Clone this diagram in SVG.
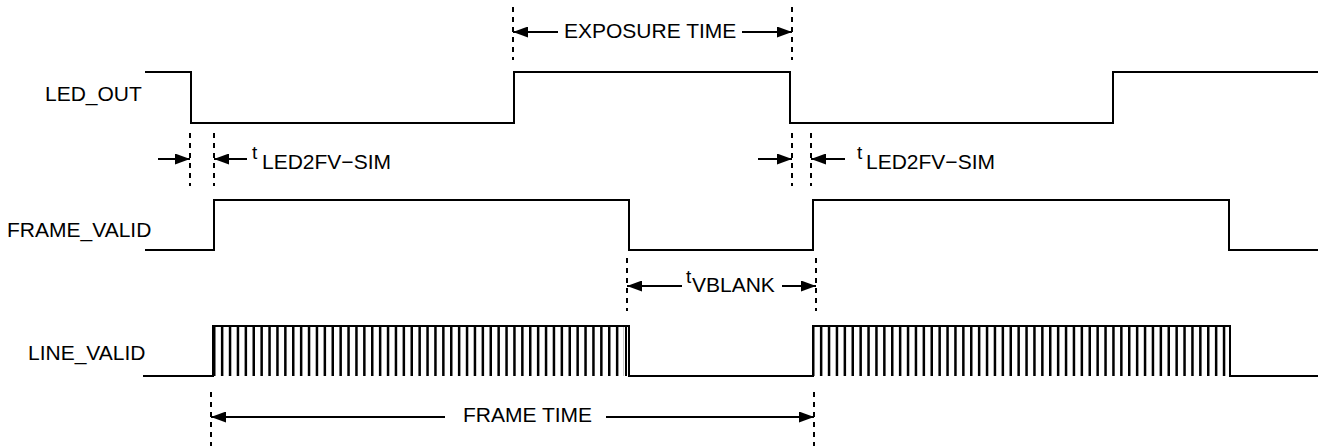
<svg xmlns="http://www.w3.org/2000/svg" width="1318" height="446" viewBox="0 0 1318 446">
<style>
.sig{fill:none;stroke:#000;stroke-width:2;stroke-linejoin:miter}
.bars{fill:none;stroke:#000;stroke-width:50}
.dash{fill:none;stroke:#000;stroke-width:2;stroke-dasharray:5 5}
.arr{fill:none;stroke:#000;stroke-width:2;marker-end:url(#ah)}
text{font-family:"Liberation Sans",Arial,sans-serif;font-size:21px;fill:#000}
.t{font-size:19px}
</style>
<defs>
<marker id="ah" markerUnits="userSpaceOnUse" markerWidth="15" markerHeight="11" refX="15" refY="5.5" orient="auto">
<path d="M0,0 L15,5.5 L0,11 z" fill="#000"/>
</marker>
</defs>
<rect width="1318" height="446" fill="#fff"/>
<g id="led_out">
<text x="45" y="101">LED_OUT</text>
<path class="sig" d="M145,72 H191 V123 H514 V72 H790 V123 H1113 V72 H1318"/>
</g>
<g id="frame_valid">
<text x="7" y="237">FRAME_VALID</text>
<path class="sig" d="M145,250 H214 V200 H629 V250 H813 V200 H1229 V250 H1318"/>
</g>
<g id="line_valid">
<text x="28" y="360">LINE_VALID</text>
<path class="sig" d="M143,376 H213 V326 H629 V376 H813 V326 H1231 M1230,326 V376 H1318"/>
<line class="bars" x1="213" y1="351" x2="624" y2="351" stroke-dasharray="2.5 5.4"/>
<line class="bars" x1="812" y1="351" x2="1228" y2="351" stroke-dasharray="2.5 5.4"/>
<line class="sig" x1="626" y1="326" x2="626" y2="376"/>
</g>
<g id="connectors">
<line class="dash" x1="190" y1="133" x2="190" y2="186"/>
<line class="dash" x1="214" y1="133" x2="214" y2="186"/>
<line class="dash" x1="792" y1="133" x2="792" y2="186"/>
<line class="dash" x1="811" y1="133" x2="811" y2="186"/>
<line class="dash" x1="513" y1="7" x2="513" y2="60"/>
<line class="dash" x1="792" y1="7" x2="792" y2="60"/>
<line class="dash" x1="627" y1="258" x2="627" y2="311"/>
<line class="dash" x1="816" y1="258" x2="816" y2="311"/>
<line class="dash" x1="211" y1="392" x2="211" y2="446"/>
<line class="dash" x1="814" y1="392" x2="814" y2="446"/>
<line class="arr" x1="158" y1="159" x2="190" y2="159"/>
<line class="arr" x1="247" y1="159" x2="214" y2="159"/>
<line class="arr" x1="758" y1="159" x2="792" y2="159"/>
<line class="arr" x1="845" y1="159" x2="811" y2="159"/>
<line class="arr" x1="558" y1="32" x2="513" y2="32"/>
<line class="arr" x1="742" y1="32" x2="792" y2="32"/>
<line class="arr" x1="682" y1="286" x2="627" y2="286"/>
<line class="arr" x1="782" y1="286" x2="816" y2="286"/>
<line class="arr" x1="445" y1="417" x2="211" y2="417"/>
<line class="arr" x1="606" y1="417" x2="814" y2="417"/>
</g>
<g id="labels">
<text x="564" y="38">EXPOSURE TIME</text>
<text class="t" x="252" y="159">t</text>
<text x="262" y="169">LED2FV−SIM</text>
<text class="t" x="857" y="159">t</text>
<text x="866" y="169">LED2FV−SIM</text>
<text class="t" x="686" y="283">t</text>
<text x="692" y="292">VBLANK</text>
<text x="463" y="422">FRAME TIME</text>
</g>
</svg>
